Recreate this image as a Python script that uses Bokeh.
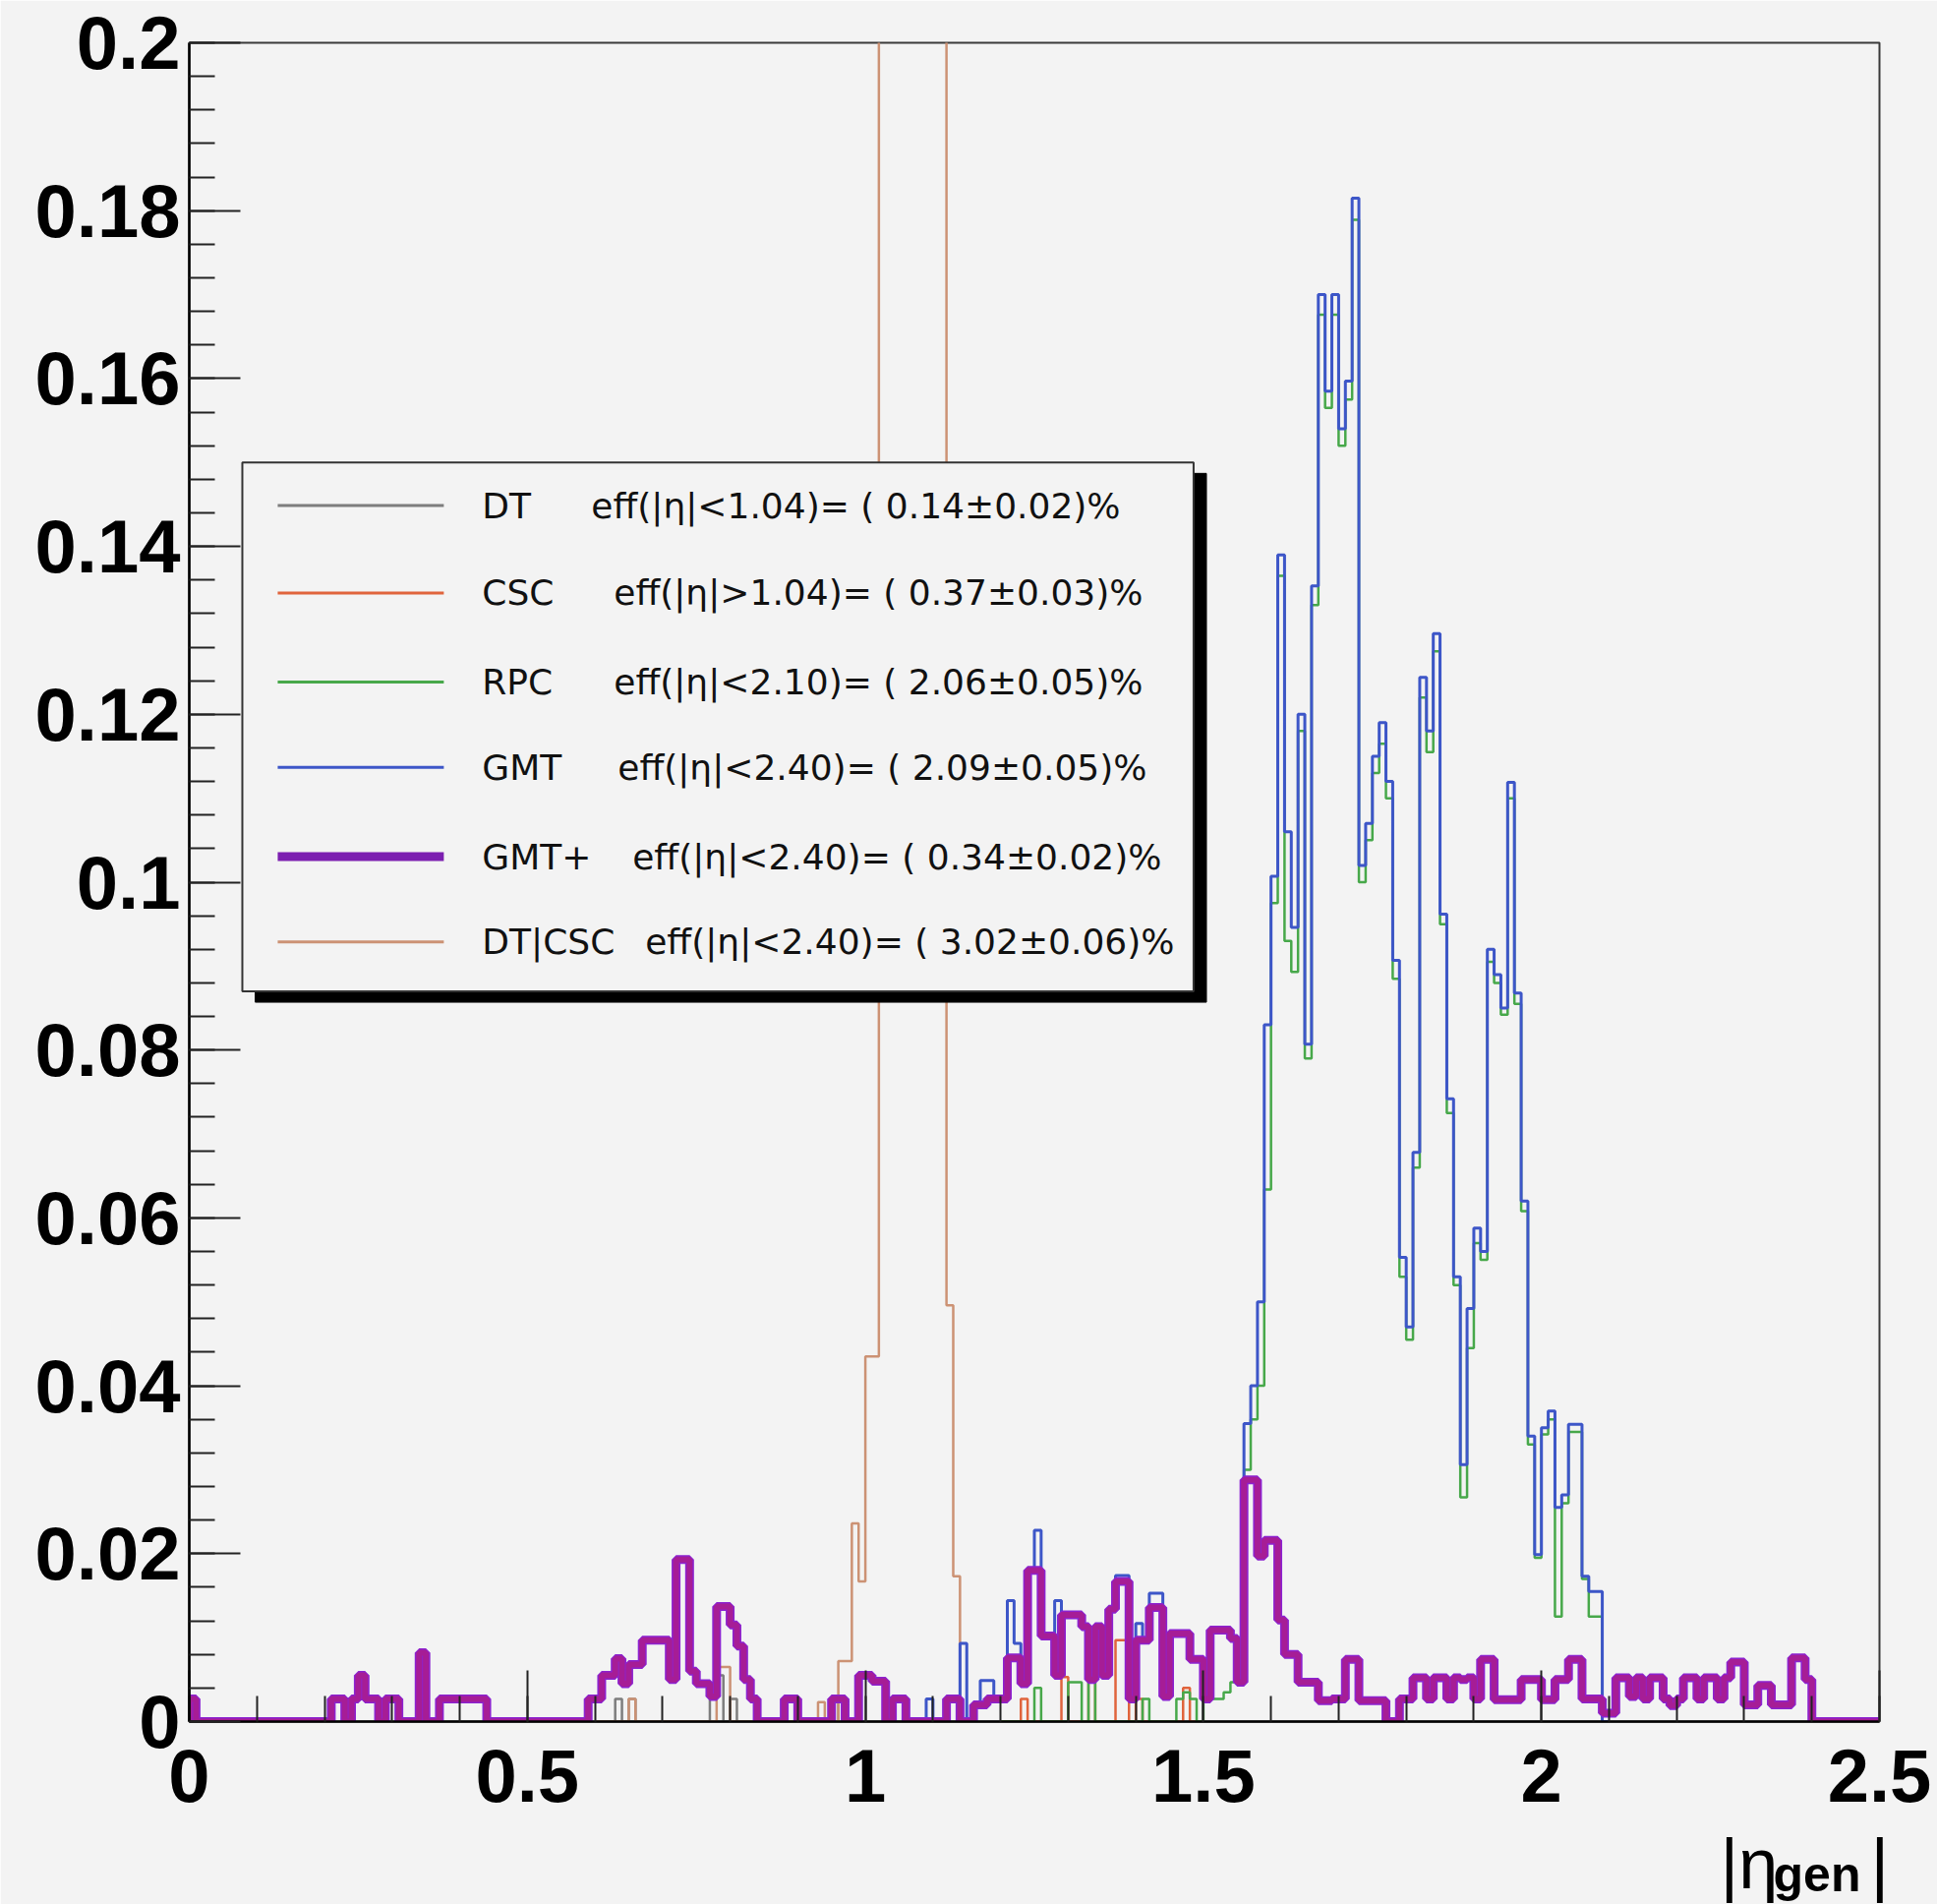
from bokeh.plotting import figure
from bokeh.models import Range1d, FixedTicker, Label
from bokeh.core.properties import value
from bokeh.embed import file_html
from bokeh.resources import INLINE

# ---------------------------------------------------------------------------
# Histogram contents: fraction per |eta_gen| bin (bin width 0.01).
# Each series is stored from its first listed bin (START index) onwards.
# ---------------------------------------------------------------------------
BIN_WIDTH = 0.01

GMT_PLUS_START = 0
GMT_PLUS = [
    0.0027, 0, 0, 0, 0, 0, 0, 0, 0, 0,                                   # 0.00
    0, 0, 0, 0, 0, 0, 0, 0, 0, 0,                                        # 0.10
    0, 0.0027, 0.0027, 0, 0.0027, 0.0055, 0.0027, 0.0027, 0, 0.0027,     # 0.20
    0.0027, 0, 0, 0, 0.0082, 0, 0, 0.0027, 0.0027, 0.0027,               # 0.30
    0.0027, 0.0027, 0.0027, 0.0027, 0, 0, 0, 0, 0, 0,                    # 0.40
    0, 0, 0, 0, 0, 0, 0, 0, 0, 0.0027,                                   # 0.50
    0.0027, 0.0055, 0.0055, 0.0075, 0.0045, 0.0068, 0.0068, 0.0097, 0.0097, 0.0097,  # 0.60
    0.0097, 0.005, 0.0193, 0.0193, 0.006, 0.0045, 0.0045, 0.003, 0.0137, 0.0137,     # 0.70
    0.0115, 0.009, 0.005, 0.0027, 0, 0, 0, 0, 0.0027, 0.0027,            # 0.80
    0, 0, 0, 0, 0, 0.0027, 0.0027, 0, 0, 0.0055,                         # 0.90
    0.0055, 0.0048, 0.0048, 0, 0.0027, 0.0027, 0, 0, 0, 0,               # 1.00
    0, 0, 0.0027, 0.0027, 0, 0, 0.002, 0.002, 0.0027, 0.0027,            # 1.10
    0.0027, 0.0076, 0.0076, 0.0045, 0.018, 0.018, 0.0102, 0.0102, 0.0055, 0.0127,    # 1.20
    0.0127, 0.0127, 0.0113, 0.005, 0.0113, 0.0055, 0.0134, 0.0167, 0.0167, 0.0027,   # 1.30
    0.0097, 0.0097, 0.0136, 0.0136, 0.003, 0.0105, 0.0105, 0.0105, 0.0074, 0.0074,   # 1.40
    0.0027, 0.0109, 0.0109, 0.0109, 0.0099, 0.0047, 0.0288, 0.0288, 0.0197, 0.0216,  # 1.50
    0.0216, 0.0121, 0.008, 0.008, 0.0047, 0.0047, 0.0047, 0.0025, 0.0025, 0.0027,    # 1.60
    0.0027, 0.0074, 0.0074, 0.0025, 0.0025, 0.0025, 0.0025, 0, 0, 0.0027,            # 1.70
    0.0027, 0.0052, 0.0052, 0.0027, 0.0052, 0.0052, 0.0027, 0.0052, 0.005, 0.0052,   # 1.80
    0.0027, 0.0074, 0.0074, 0.0026, 0.0026, 0.0026, 0.0026, 0.005, 0.005, 0.005,     # 1.90
    0.0026, 0.0026, 0.005, 0.005, 0.0074, 0.0074, 0.0027, 0.0027, 0.0027, 0.001,     # 2.00
    0.001, 0.0052, 0.0052, 0.003, 0.0052, 0.0027, 0.0052, 0.0052, 0.0027, 0.0019,    # 2.10
    0.0027, 0.0052, 0.0052, 0.0027, 0.0052, 0.0052, 0.0027, 0.0052, 0.0071, 0.0071,  # 2.20
    0.002, 0.002, 0.0043, 0.0043, 0.002, 0.002, 0.002, 0.0076, 0.0076, 0.005,        # 2.30
    0, 0, 0, 0, 0, 0, 0, 0, 0, 0,                                        # 2.40
]

GMT_START = 108
GMT = [
    0, 0.0027,                                                           # 1.08
    0, 0, 0.0027, 0.0027, 0.0093, 0, 0.002, 0.0049, 0.0049, 0.0027,      # 1.10
    0.0027, 0.0144, 0.0093, 0.0076, 0.018, 0.0228, 0.0102, 0.0102, 0.0144, 0.0127,   # 1.20
    0.0127, 0.0127, 0.0113, 0.0055, 0.0113, 0.0055, 0.0134, 0.0174, 0.0174, 0.0027,  # 1.30
    0.0117, 0.0097, 0.0153, 0.0153, 0.003, 0.0105, 0.0105, 0.0105, 0.0074, 0.0074,   # 1.40
    0.0027, 0.0109, 0.0109, 0.0109, 0.0099, 0.0047, 0.0355, 0.04, 0.05, 0.083,       # 1.50
    0.1007, 0.139, 0.106, 0.0946, 0.12, 0.0807, 0.1353, 0.170, 0.1585, 0.170,        # 1.60
    0.154, 0.1597, 0.1815, 0.102, 0.107, 0.115, 0.119, 0.112, 0.0907, 0.0553,        # 1.70
    0.047, 0.0678, 0.1244, 0.118, 0.1296, 0.0962, 0.0742, 0.053, 0.0306, 0.0492,     # 1.80
    0.0588, 0.056, 0.092, 0.089, 0.085, 0.1119, 0.0868, 0.062, 0.034, 0.0199,        # 1.90
    0.035, 0.037, 0.0255, 0.027, 0.0354, 0.0354, 0.0173, 0.0155, 0.0155, 0,          # 2.00
]

RPC_START = 120
RPC = [
    0, 0, 0, 0, 0, 0.004, 0, 0, 0, 0,                                    # 1.20
    0.0047, 0.0047, 0, 0.0047, 0, 0, 0, 0, 0, 0,                         # 1.30
    0, 0.0027, 0, 0, 0, 0, 0.0027, 0.0035, 0.0027, 0,                    # 1.40
    0.0027, 0.0027, 0.0027, 0.0035, 0.0047, 0.0047, 0.03, 0.036, 0.04, 0.0634,       # 1.50
    0.0975, 0.1365, 0.093, 0.0893, 0.118, 0.079, 0.133, 0.1676, 0.1565, 0.1676,      # 1.60
    0.152, 0.1575, 0.1789, 0.1, 0.105, 0.113, 0.1165, 0.11, 0.0885, 0.053,           # 1.70
    0.0455, 0.066, 0.122, 0.1155, 0.1275, 0.095, 0.0725, 0.052, 0.0267, 0.0445,      # 1.80
    0.057, 0.055, 0.0905, 0.088, 0.0842, 0.11, 0.0855, 0.0608, 0.033, 0.0195,        # 1.90
    0.0342, 0.036, 0.0125, 0.026, 0.0345, 0.0345, 0.017, 0.0125, 0.0125, 0,          # 2.00
]

CSC_START = 120
CSC = [
    0, 0, 0, 0.0027, 0, 0, 0, 0, 0, 0.0053,                              # 1.20
    0, 0, 0, 0.0067, 0, 0, 0, 0.0097, 0.0097, 0,                         # 1.30
    0.0027, 0, 0, 0, 0, 0, 0, 0.004, 0, 0,                               # 1.40
]

DT_START = 60
DT = [
    0, 0, 0, 0.0027, 0, 0.0027, 0, 0, 0, 0,                              # 0.60
    0, 0, 0, 0, 0, 0, 0, 0.0027, 0.0055, 0,                              # 0.70
    0.0027, 0, 0, 0, 0, 0, 0, 0, 0, 0,                                   # 0.80
    0, 0, 0, 0, 0, 0, 0.0027, 0, 0, 0,                                   # 0.90
]

DTCSC_START = 60
DTCSC = [
    0, 0, 0, 0, 0, 0.0027, 0, 0, 0, 0,                                   # 0.60
    0, 0, 0, 0, 0, 0, 0, 0, 0.0065, 0.0065,                              # 0.70
    0, 0, 0, 0, 0, 0, 0, 0, 0, 0,                                        # 0.80
    0, 0, 0, 0.0023, 0, 0, 0.0072, 0.0072, 0.0236, 0.0167,               # 0.90
    0.0435, 0.0435, 0.31, 0.34, 0.36, 0.37, 0.37, 0.36, 0.35, 0.33,      # 1.00
    0.30, 0.26, 0.0496, 0.0173, 0, 0,                                    # 1.10
]

# Legend entries
LEG_NAMES = ["DT", "CSC", "RPC", "GMT", "GMT+", "DT|CSC"]
LEG_EFFS = [
    "eff(|\u03b7|<1.04)= ( 0.14\u00b10.02)%",
    "eff(|\u03b7|>1.04)= ( 0.37\u00b10.03)%",
    "eff(|\u03b7|<2.10)= ( 2.06\u00b10.05)%",
    "eff(|\u03b7|<2.40)= ( 2.09\u00b10.05)%",
    "eff(|\u03b7|<2.40)= ( 0.34\u00b10.02)%",
    "eff(|\u03b7|<2.40)= ( 3.02\u00b10.06)%",
]

# Axis ticks
X_TICKS = [0, 0.5, 1, 1.5, 2, 2.5]
X_TICK_LABELS = ["0", "0.5", "1", "1.5", "2", "2.5"]
Y_TICKS = [0, 0.02, 0.04, 0.06, 0.08, 0.1, 0.12, 0.14, 0.16, 0.18, 0.2]
Y_TICK_LABELS = ["0", "0.02", "0.04", "0.06", "0.08", "0.1", "0.12",
                 "0.14", "0.16", "0.18", "0.2"]

# ---------------------------------------------------------------------------
BG = "#f3f3f3"
C_DT = "#7d7d7d"
C_CSC = "#e0643c"
C_RPC = "#47a84a"
C_GMT = "#3d56c8"
C_GMTP = "#8c22d0"
C_GMTP_OVER = "#b81a70"
C_DTCSC = "#cc9274"


def step_xy(start_bin, vals):
    """Outline of a histogram: up from 0 at the first edge, down to 0 at the last."""
    n = len(vals)
    x0 = start_bin * BIN_WIDTH
    xs = [x0] + [x0 + i * BIN_WIDTH for i in range(n + 1)]
    ys = [0.0] + list(vals) + [0.0]
    return xs, ys


p = figure(width=1970, height=1936,
           x_range=Range1d(0, 2.5), y_range=Range1d(0, 0.2),
           output_backend="svg", toolbar_location=None,
           min_border_left=192, min_border_right=58,
           min_border_top=43, min_border_bottom=186)
p.background_fill_color = BG
p.border_fill_color = BG
p.grid.visible = False
p.outline_line_color = "#3a3a3a"
p.outline_line_width = 2

# axes (ROOT style: ticks pointing inwards)
p.xaxis.ticker = FixedTicker(ticks=X_TICKS,
                             minor_ticks=[round(0.1 * i, 2) for i in range(26)])
p.yaxis.ticker = FixedTicker(ticks=Y_TICKS,
                             minor_ticks=[round(0.004 * i, 3) for i in range(51)])
p.xaxis.major_label_overrides = dict(zip(X_TICKS, X_TICK_LABELS))
p.yaxis.major_label_overrides = dict(zip(Y_TICKS, Y_TICK_LABELS))
for ax in (p.xaxis, p.yaxis):
    ax.axis_line_color = "black"
    ax.axis_line_width = 2.5
    ax.major_tick_in = 52
    ax.major_tick_out = 0
    ax.minor_tick_in = 26
    ax.minor_tick_out = 0
    ax.major_tick_line_color = "#222222"
    ax.major_tick_line_width = 2
    ax.minor_tick_line_color = "#222222"
    ax.minor_tick_line_width = 2
    ax.major_label_text_font = "Liberation Sans"
    ax.major_label_text_font_style = "bold"
    ax.major_label_text_font_size = "76px"
    ax.major_label_text_color = "black"
p.xaxis.major_label_standoff = 28
p.yaxis.major_label_standoff = 9

# histograms
for start, vals, color, width in [
    (DT_START, DT, C_DT, 2.5),
    (CSC_START, CSC, C_CSC, 2.5),
    (DTCSC_START, DTCSC, C_DTCSC, 2.5),
    (RPC_START, RPC, C_RPC, 2.5),
    (GMT_START, GMT, C_GMT, 3),
]:
    xs, ys = step_xy(start, vals)
    p.step(xs, ys, mode="after", line_color=color, line_width=width)

xs, ys = step_xy(GMT_PLUS_START, GMT_PLUS)
p.step(xs, ys, mode="after", line_color=C_GMTP, line_width=9)
p.step(xs, ys, mode="after", line_color=C_GMTP_OVER, line_width=6, line_alpha=0.6)

# legend box with drop shadow
LEG_L, LEG_R, LEG_T, LEG_B = 0.0785, 1.4855, 0.1500, 0.0870
SH_DX, SH_DY = 0.019, 0.0013
p.quad(left=[LEG_L + SH_DX], right=[LEG_R + SH_DX], top=[LEG_T - SH_DY],
       bottom=[LEG_B - SH_DY], fill_color="black", line_color="black")
p.quad(left=[LEG_L], right=[LEG_R], top=[LEG_T], bottom=[LEG_B],
       fill_color=BG, line_color="#333333", line_width=2)

row_y = [0.14486, 0.13446, 0.12383, 0.11367, 0.10304, 0.09287]
eff_x = [0.5945, 0.6279, 0.6279, 0.6337, 0.6555, 0.6744]
sample_colors = [C_DT, C_CSC, C_RPC, C_GMT, "#7c1fb0", C_DTCSC]
sample_widths = [3, 3, 3, 3, 9, 3]
for y, c, w in zip(row_y, sample_colors, sample_widths):
    p.segment(x0=[0.1308], y0=[y], x1=[0.3765], y1=[y], line_color=c, line_width=w)
p.text(x=[0.4331] * len(LEG_NAMES), y=row_y, text=LEG_NAMES,
       text_font=value("DejaVu Sans"), text_font_size=value("36px"),
       text_baseline="middle", text_align="left", text_color="#111111")
p.text(x=eff_x, y=row_y, text=LEG_EFFS,
       text_font=value("DejaVu Sans"), text_font_size=value("36px"),
       text_baseline="middle", text_align="left", text_color="#111111")

# x-axis title |eta_gen|: the pieces sit in side panels (so they are not clipped
# by the frame) but are positioned in data coordinates below the axis.
p.add_layout(Label(x=2.2645, y=-0.01694, text="|\u03b7", text_font="Liberation Sans",
                   text_font_size="72px", text_baseline="alphabetic",
                   text_color="black"), "right")
p.add_layout(Label(x=2.343, y=-0.01822, text="gen", text_font="Liberation Sans",
                   text_font_size="50px", text_font_style="bold",
                   text_baseline="alphabetic", text_color="black"), "below")
p.add_layout(Label(x=2.487, y=-0.01694, text="|", text_font="Liberation Sans",
                   text_font_size="72px", text_baseline="alphabetic",
                   text_color="black"), "left")

open("out.html", "w").write(file_html(p, INLINE))
